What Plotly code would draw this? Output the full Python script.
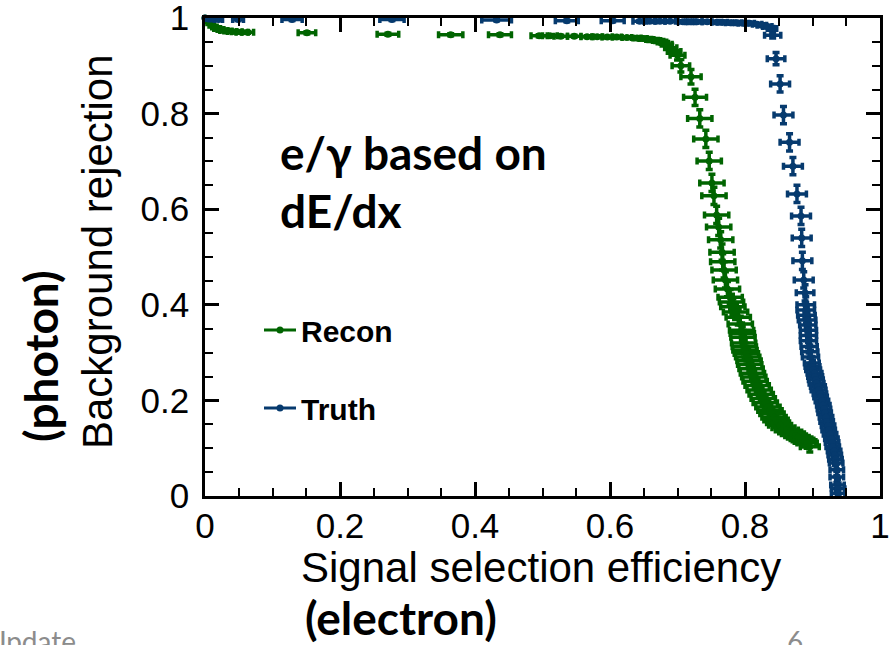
import plotly.graph_objects as go

# ---- Recon (green): signal efficiency vs background rejection, with errors
recon_x = [0.000, 0.003, 0.006, 0.010, 0.014, 0.018, 0.023, 0.028, 0.034, 0.040, 0.047, 0.055, 0.063,
           0.151, 0.271, 0.364, 0.437, 0.495, 0.511, 0.527, 0.547, 0.566, 0.581, 0.596, 0.610, 0.625,
           0.640, 0.649, 0.659, 0.669, 0.677, 0.684, 0.690, 0.695, 0.700,
           0.705, 0.720, 0.726, 0.733, 0.742, 0.747, 0.751, 0.754, 0.758, 0.761, 0.764, 0.766,
           0.767, 0.769, 0.771, 0.774, 0.778, 0.780, 0.782, 0.786, 0.790, 0.793, 0.795, 0.796,
           0.797, 0.798, 0.799, 0.800, 0.802, 0.804, 0.806, 0.807, 0.809, 0.811, 0.813, 0.815,
           0.818, 0.821, 0.824, 0.827, 0.830, 0.834, 0.837, 0.840, 0.843, 0.846, 0.849, 0.852,
           0.857, 0.862, 0.867, 0.871, 0.875, 0.879, 0.883, 0.886, 0.889, 0.892, 0.896]
recon_y = [1.000, 0.995, 0.990, 0.985, 0.981, 0.978, 0.976, 0.974, 0.973, 0.972, 0.971, 0.970, 0.970,
           0.969, 0.966, 0.965, 0.965, 0.963, 0.963, 0.962, 0.962, 0.961, 0.961, 0.960, 0.960, 0.959,
           0.958, 0.957, 0.955, 0.953, 0.950, 0.945, 0.938, 0.930, 0.922,
           0.900, 0.877, 0.834, 0.790, 0.747, 0.701, 0.655, 0.628, 0.588, 0.563, 0.536, 0.510,
           0.490, 0.473, 0.452, 0.433, 0.416, 0.406, 0.396, 0.385, 0.374, 0.360, 0.347, 0.340,
           0.332, 0.320, 0.312, 0.305, 0.298, 0.291, 0.283, 0.275, 0.266, 0.257, 0.249, 0.240,
           0.231, 0.222, 0.213, 0.204, 0.195, 0.186, 0.179, 0.172, 0.165, 0.159, 0.153, 0.148,
           0.143, 0.138, 0.134, 0.130, 0.126, 0.123, 0.120, 0.117, 0.114, 0.111, 0.103, 0.096]
recon_ex = [0.002, 0.003, 0.003, 0.004, 0.004, 0.005, 0.005, 0.006, 0.006, 0.007, 0.008, 0.009, 0.009,
            0.013, 0.016, 0.018, 0.017, 0.012, 0.011, 0.010, 0.010, 0.009, 0.008, 0.008, 0.007, 0.007,
            0.006, 0.006, 0.006, 0.006, 0.007, 0.008, 0.009, 0.010, 0.011,
            0.013, 0.015, 0.017, 0.018, 0.018, 0.018, 0.018, 0.018, 0.018, 0.018, 0.018, 0.018,
            0.018, 0.018, 0.018, 0.018, 0.018, 0.018, 0.018, 0.018, 0.018, 0.018, 0.018, 0.018,
            0.018, 0.018, 0.018, 0.018, 0.018, 0.018, 0.018, 0.018, 0.018, 0.018, 0.018, 0.018,
            0.018, 0.018, 0.018, 0.018, 0.018, 0.018, 0.018, 0.018, 0.018, 0.018, 0.017, 0.017,
            0.017, 0.017, 0.017, 0.017, 0.016, 0.016, 0.016, 0.016, 0.016, 0.015, 0.014]
recon_ey = [0.002, 0.002, 0.002, 0.002, 0.002, 0.002, 0.002, 0.002, 0.002, 0.002, 0.002, 0.002, 0.002,
            0.002, 0.002, 0.002, 0.002, 0.002, 0.002, 0.002, 0.002, 0.002, 0.002, 0.002, 0.002, 0.002,
            0.003, 0.003, 0.004, 0.004, 0.005, 0.006, 0.007, 0.008, 0.010,
            0.013, 0.015, 0.017, 0.018, 0.018, 0.018, 0.018, 0.018, 0.018, 0.018, 0.017, 0.017,
            0.017, 0.017, 0.017, 0.016, 0.016, 0.016, 0.016, 0.016, 0.016, 0.016, 0.015, 0.015,
            0.015, 0.015, 0.015, 0.015, 0.015, 0.015, 0.014, 0.014, 0.014, 0.014, 0.014, 0.014,
            0.014, 0.014, 0.013, 0.013, 0.013, 0.013, 0.013, 0.013, 0.012, 0.012, 0.012, 0.012,
            0.012, 0.012, 0.011, 0.011, 0.011, 0.011, 0.011, 0.011, 0.011, 0.011, 0.011, 0.011]

# ---- Truth (blue)
truth_x = [0.000, 0.003, 0.010, 0.020, 0.049, 0.129, 0.277, 0.432, 0.536, 0.604, 0.644, 0.659, 0.674,
           0.689, 0.708, 0.719, 0.729, 0.744, 0.758, 0.767, 0.778, 0.788, 0.797, 0.807, 0.818, 0.825,
           0.833, 0.840, 0.841, 0.846, 0.852, 0.857, 0.866, 0.871, 0.877, 0.883, 0.884, 0.885, 0.887,
           0.889, 0.890, 0.890, 0.891, 0.892, 0.893, 0.894, 0.894, 0.894, 0.895, 0.896, 0.897, 0.899,
           0.900, 0.901, 0.903, 0.904, 0.905, 0.906, 0.908, 0.909, 0.911, 0.912, 0.914, 0.916, 0.917,
           0.918, 0.920, 0.921, 0.923, 0.924, 0.926, 0.928, 0.929, 0.930, 0.932, 0.933, 0.934, 0.935,
           0.936, 0.936, 0.937, 0.938, 0.938]
truth_y = [1.000, 0.999, 0.998, 0.997, 0.997, 0.997, 0.997, 0.996, 0.994, 0.994, 0.993, 0.993, 0.993,
           0.993, 0.992, 0.992, 0.992, 0.992, 0.991, 0.991, 0.990, 0.990, 0.989, 0.989, 0.987, 0.985,
           0.982, 0.978, 0.964, 0.915, 0.862, 0.797, 0.740, 0.690, 0.632, 0.586, 0.540, 0.492, 0.452,
           0.425, 0.400, 0.389, 0.378, 0.368, 0.358, 0.347, 0.336, 0.325, 0.313, 0.302, 0.291, 0.278,
           0.271, 0.264, 0.257, 0.250, 0.243, 0.236, 0.229, 0.222, 0.214, 0.207, 0.199, 0.190, 0.182,
           0.174, 0.165, 0.156, 0.147, 0.138, 0.129, 0.120, 0.112, 0.103, 0.094, 0.086, 0.077, 0.069,
           0.055, 0.040, 0.023, 0.015, 0.006]
truth_ex = [0.002, 0.002, 0.004, 0.006, 0.008, 0.015, 0.018, 0.022, 0.017, 0.017, 0.010, 0.009, 0.008,
            0.008, 0.007, 0.007, 0.007, 0.007, 0.007, 0.007, 0.007, 0.007, 0.007, 0.007, 0.007, 0.007,
            0.007, 0.007, 0.012, 0.013, 0.014, 0.014, 0.014, 0.014, 0.014, 0.014, 0.014, 0.014, 0.014,
            0.013, 0.013, 0.013, 0.013, 0.013, 0.012, 0.012, 0.012, 0.012, 0.012, 0.012, 0.012, 0.011,
            0.011, 0.011, 0.011, 0.011, 0.011, 0.011, 0.011, 0.011, 0.010, 0.010, 0.010, 0.010, 0.010,
            0.010, 0.010, 0.010, 0.010, 0.010, 0.010, 0.010, 0.010, 0.010, 0.010, 0.010, 0.010, 0.010,
            0.010, 0.010, 0.010, 0.010, 0.010]
truth_ey = [0.002, 0.002, 0.002, 0.002, 0.002, 0.002, 0.002, 0.002, 0.002, 0.002, 0.002, 0.002, 0.002,
            0.002, 0.002, 0.002, 0.002, 0.002, 0.002, 0.002, 0.002, 0.002, 0.002, 0.002, 0.002, 0.003,
            0.003, 0.004, 0.006, 0.013, 0.017, 0.018, 0.018, 0.018, 0.018, 0.018, 0.018, 0.018, 0.017,
            0.017, 0.017, 0.016, 0.016, 0.016, 0.015, 0.015, 0.015, 0.015, 0.014, 0.014, 0.014, 0.014,
            0.013, 0.013, 0.013, 0.013, 0.013, 0.013, 0.013, 0.013, 0.013, 0.013, 0.013, 0.013, 0.013,
            0.013, 0.013, 0.013, 0.013, 0.013, 0.013, 0.013, 0.013, 0.013, 0.013, 0.013, 0.013, 0.013,
            0.012, 0.012, 0.012, 0.012, 0.010]

x_ticks = [0, 0.2, 0.4, 0.6, 0.8, 1]
x_tick_labels = ["0", "0.2", "0.4", "0.6", "0.8", "1"]
y_ticks = [0, 0.2, 0.4, 0.6, 0.8, 1]
y_tick_labels = ["0", "0.2", "0.4", "0.6", "0.8", "1"]

GREEN = "#006400"
BLUE = "#063a6e"

W, H = 895, 645
L, R, T, B = 205, 15, 18, 149
PW, PH = W - L - R, H - T - B


def px(x):
    return (x - L) / PW


def py(y):
    return (H - B - y) / PH


fig = go.Figure()


def add_series(x, y, ex, ey, color, name, legend):
    fig.add_trace(go.Scatter(
        x=x, y=y, mode="markers", showlegend=False, cliponaxis=False,
        marker=dict(color=color, size=7, symbol="circle"),
        error_x=dict(type="data", array=ex, visible=True, color=color, thickness=3.5, width=3.5),
        error_y=dict(type="data", array=ey, visible=True, color=color, thickness=3.5, width=3.5),
    ))
    fig.add_trace(go.Scatter(
        x=[None], y=[None], mode="lines+markers", name=name, legend=legend,
        line=dict(color=color, width=3), marker=dict(color=color, size=7),
    ))


add_series(recon_x, recon_y, recon_ex, recon_ey, GREEN, "Recon", "legend")
add_series(truth_x, truth_y, truth_ex, truth_ey, BLUE, "Truth", "legend2")

legend_font = dict(family="Liberation Sans, Arial, sans-serif", size=30, color="black", weight="bold")
legend_common = dict(font=legend_font, bgcolor="rgba(0,0,0,0)", xanchor="left", yanchor="middle",
                     itemwidth=32, tracegroupgap=0)

tick_font = dict(family="Liberation Sans, Arial, sans-serif", size=35, color="black")
axis_common = dict(
    range=[0, 1], showgrid=False, zeroline=False, showline=True, linecolor="black", linewidth=2.5,
    mirror="allticks", ticks="inside", ticklen=14, tickwidth=2.5, tickcolor="black",
    tickfont=tick_font, ticklabeloverflow="allow", automargin=False,
    minor=dict(dtick=0.05, ticks="inside", ticklen=8, tickwidth=2, tickcolor="black", showgrid=False),
)

fig.update_xaxes(**axis_common)
fig.update_yaxes(**axis_common)
fig.update_xaxes(tickvals=x_ticks, ticktext=x_tick_labels, ticklabelstandoff=-3)
fig.update_yaxes(tickvals=y_ticks, ticktext=y_tick_labels, ticklabelstandoff=6)

title_font = dict(family="Liberation Sans, Arial, sans-serif", size=42, color="black")
bold_font = dict(family="Lato, Open Sans, sans-serif", size=46, color="black", weight="bold")
slide_font = dict(family="Lato, Open Sans, sans-serif", size=28, color="#8c8c8c")

annotations = [
    dict(text="e/γ based on", x=px(278), y=py(152), xanchor="left", yanchor="middle", font=bold_font),
    dict(text="dE/dx", x=px(278), y=py(210), xanchor="left", yanchor="middle", font=bold_font),
    dict(text="Background rejection", x=px(97), y=py(252), textangle=-90, xanchor="center",
         yanchor="middle", font=title_font),
    dict(text="(photon)", x=px(40), y=py(356), textangle=-90, xanchor="center", yanchor="middle",
         font=bold_font),
    dict(text="Signal selection efficiency", x=px(541), y=py(567), xanchor="center", yanchor="middle",
         font=title_font),
    dict(text="(electron)", x=px(401), y=py(617), xanchor="center", yanchor="middle", font=bold_font),
    dict(text="Update", x=px(-16), y=py(641), xanchor="left", yanchor="middle", font=slide_font),
    dict(text="6", x=px(795), y=py(641), xanchor="center", yanchor="middle", font=slide_font),
]
for a in annotations:
    a.update(xref="paper", yref="paper", showarrow=False)

fig.update_layout(
    width=W, height=H, margin=dict(l=L, r=R, t=T, b=B, pad=0, autoexpand=False),
    paper_bgcolor="white", plot_bgcolor="white",
    annotations=annotations,
    legend=dict(x=px(259), y=py(330), **legend_common),
    legend2=dict(x=px(259), y=py(408), **legend_common),
)

fig.write_html("out.html")
